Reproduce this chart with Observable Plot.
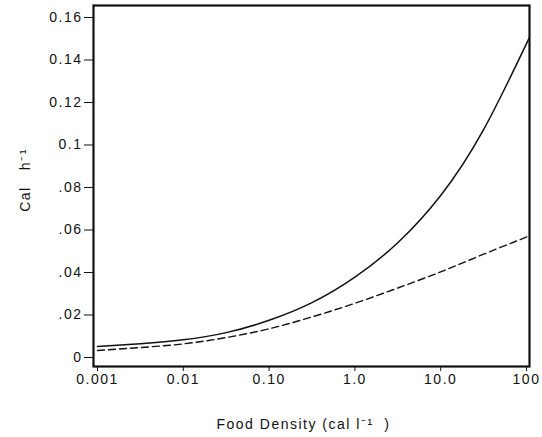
<!DOCTYPE html>
<html>
<head>
<meta charset="utf-8">
<script src="https://cdn.jsdelivr.net/npm/d3@7"></script>
<script src="https://cdn.jsdelivr.net/npm/@observablehq/plot@0.6"></script>
<style>
  html, body { margin: 0; padding: 0; background: #fff; }
  #chart svg { display: block; }
</style>
</head>
<body>
<div id="chart"></div>
<script>
// Food density samples (half-decade steps)
const density = [0.001, 0.00316, 0.01, 0.0316, 0.1, 0.316, 1, 3.16, 10, 31.6, 108];
// Solid curve
const solidCal  = [0.0052, 0.0065, 0.0083, 0.0117, 0.0175, 0.0258, 0.0378, 0.054, 0.0762, 0.1072, 0.1505];
// Dashed curve
const dashedCal = [0.0033, 0.0047, 0.0064, 0.0094, 0.0135, 0.0191, 0.0255, 0.0327, 0.0403, 0.0486, 0.0572];

const xTicks = [0.001, 0.01, 0.1, 1, 10, 100];
const xTickLabels = ["0.001", "0.01", "0.10", "1.0", "10.0", "100"];
const yTicks = [0, 0.02, 0.04, 0.06, 0.08, 0.1, 0.12, 0.14, 0.16];
const yTickLabels = ["0", ".02", ".04", ".06", ".08", "0.1", "0.12", "0.14", "0.16"];
const xLabel = "Food Density (cal l\u207B\u00B9\u00A0\u00A0)";
const yLabel = "Cal\u00A0\u00A0\u00A0h\u207B\u00B9";

const solid = density.map((d, i) => ({x: d, y: solidCal[i]}));
const dashed = density.map((d, i) => ({x: d, y: dashedCal[i]}));

const chart = Plot.plot({
  width: 542,
  height: 437,
  marginLeft: 93,
  marginRight: 13,
  marginTop: 5,
  marginBottom: 71,
  style: {fontFamily: "'Liberation Sans', Arial, sans-serif", fontSize: "14px", color: "#111", letterSpacing: "1.5px"},
  x: {type: "log", domain: [0.000898, 108.4]},
  y: {domain: [-0.00424, 0.16565]},
  marks: [
    Plot.axisX({ticks: xTicks, tickFormat: (d) => xTickLabels[xTicks.indexOf(d)], tickSize: 5, tickPadding: 3, label: null, fontSize: 14, stroke: "#111"}),
    Plot.axisY({ticks: yTicks, tickFormat: (d) => yTickLabels[yTicks.indexOf(d)], tickSize: 9, tickPadding: 2, label: null, fontSize: 14, stroke: "#111"}),
    Plot.line(solid, {x: "x", y: "y", curve: "natural", stroke: "#111", strokeWidth: 1.5}),
    Plot.line(dashed, {x: "x", y: "y", curve: "natural", stroke: "#111", strokeWidth: 1.4, strokeDasharray: "7,4"}),
    Plot.frame({stroke: "#111", strokeWidth: 2.2}),
    Plot.text([xLabel], {frameAnchor: "bottom", dy: 62, dx: -8, fontSize: 14, fill: "#111", letterSpacing: "2.2px"}),
    Plot.text([yLabel], {frameAnchor: "left", textAnchor: "middle", dx: -68, dy: -6, rotate: -90, fontSize: 14, fill: "#111", letterSpacing: "2px"})
  ]
});
document.getElementById("chart").appendChild(chart);
</script>
</body>
</html>
